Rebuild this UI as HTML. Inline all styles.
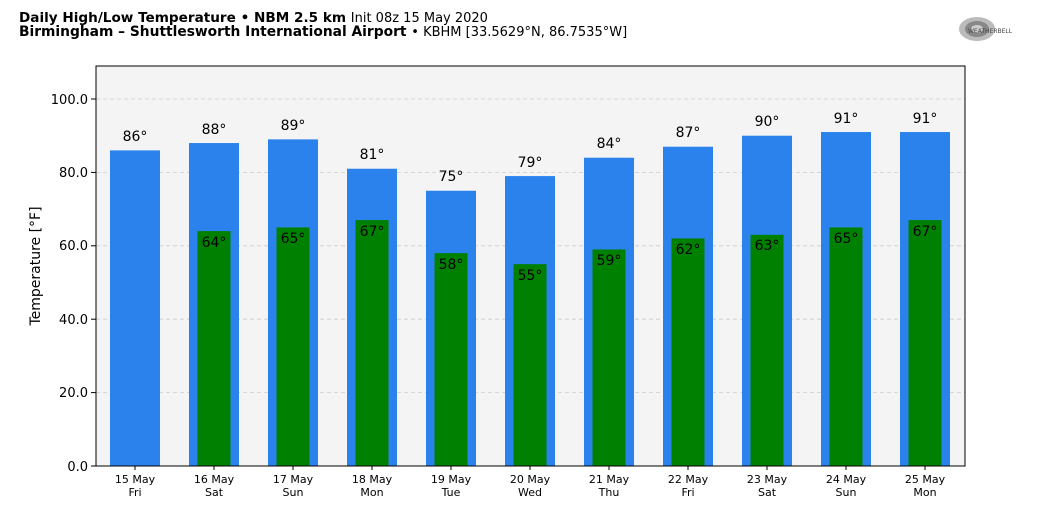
<!DOCTYPE html>
<html><head><meta charset="utf-8"><style>
body{margin:0;background:#fff;}
svg{display:block;font-family:"DejaVu Sans","Liberation Sans",sans-serif;}
</style></head><body>
<svg width="1040" height="516" viewBox="0 0 1040 516" xmlns="http://www.w3.org/2000/svg">
<rect width="1040" height="516" fill="#fff"/>
<text x="19" y="22" font-size="13.6" font-weight="bold" fill="#000">Daily High/Low Temperature • NBM 2.5 km <tspan font-weight="normal" font-size="13">Init 08z 15 May 2020</tspan></text>
<text x="19" y="36" font-size="13.8" font-weight="bold" fill="#000">Birmingham – Shuttlesworth International Airport <tspan font-weight="normal" font-size="13">• KBHM [33.5629°N, 86.7535°W]</tspan></text>
<g>
<ellipse cx="977" cy="29" rx="18" ry="12" fill="#bbb"/>
<ellipse cx="977" cy="29" rx="12" ry="8" fill="#888"/>
<ellipse cx="977" cy="29" rx="6" ry="4" fill="#ccc"/>
<text x="968" y="33" font-size="6" fill="#444">WEATHERBELL</text>
</g>
<rect x="96" y="66" width="869" height="400" fill="#f4f4f4"/>
<g stroke="#ccc" stroke-dasharray="4,3" stroke-width="0.8">
<line x1="96" x2="965" y1="99" y2="99"/>
<line x1="96" x2="965" y1="172.4" y2="172.4"/>
<line x1="96" x2="965" y1="245.8" y2="245.8"/>
<line x1="96" x2="965" y1="319.2" y2="319.2"/>
<line x1="96" x2="965" y1="392.6" y2="392.6"/>
</g>
<g fill="#2b82ed">
<rect x="110" y="150.38" width="50" height="315.62"/>
<rect x="189" y="143.04" width="50" height="322.96"/>
<rect x="268" y="139.37" width="50" height="326.63"/>
<rect x="347" y="168.73" width="50" height="297.27"/>
<rect x="426" y="190.75" width="50" height="275.25"/>
<rect x="505" y="176.07" width="50" height="289.93"/>
<rect x="584" y="157.72" width="50" height="308.28"/>
<rect x="663" y="146.71" width="50" height="319.29"/>
<rect x="742" y="135.7" width="50" height="330.3"/>
<rect x="821" y="132.03" width="50" height="333.97"/>
<rect x="900" y="132.03" width="50" height="333.97"/>
</g>
<g fill="#008000">
<rect x="197.5" y="231.12" width="33" height="234.88"/>
<rect x="276.5" y="227.45" width="33" height="238.55"/>
<rect x="355.5" y="220.11" width="33" height="245.89"/>
<rect x="434.5" y="253.14" width="33" height="212.86"/>
<rect x="513.5" y="264.15" width="33" height="201.85"/>
<rect x="592.5" y="249.47" width="33" height="216.53"/>
<rect x="671.5" y="238.46" width="33" height="227.54"/>
<rect x="750.5" y="234.79" width="33" height="231.21"/>
<rect x="829.5" y="227.45" width="33" height="238.55"/>
<rect x="908.5" y="220.11" width="33" height="245.89"/>
</g>
<g font-size="14" text-anchor="middle" fill="#000">
<text x="135" y="141">86°</text><text x="214" y="134">88°</text><text x="293" y="130">89°</text>
<text x="372" y="159">81°</text><text x="451" y="181">75°</text><text x="530" y="167">79°</text>
<text x="609" y="148">84°</text><text x="688" y="137">87°</text><text x="767" y="126">90°</text>
<text x="846" y="123">91°</text><text x="925" y="123">91°</text>
<text x="214" y="247">64°</text><text x="293" y="243">65°</text><text x="372" y="236">67°</text>
<text x="451" y="269">58°</text><text x="530" y="280">55°</text><text x="609" y="265">59°</text>
<text x="688" y="254">62°</text><text x="767" y="250">63°</text><text x="846" y="243">65°</text>
<text x="925" y="236">67°</text>
</g>
<rect x="96" y="66" width="869" height="400" fill="none" stroke="#000" stroke-width="1"/>
<g font-size="13" text-anchor="end" fill="#000">
<text x="88" y="104">100.0</text><text x="88" y="177">80.0</text><text x="88" y="250">60.0</text>
<text x="88" y="324">40.0</text><text x="88" y="397">20.0</text><text x="88" y="471">0.0</text>
</g>
<g stroke="#000"><line x1="91" x2="96" y1="99" y2="99"/><line x1="91" x2="96" y1="172.4" y2="172.4"/><line x1="91" x2="96" y1="245.8" y2="245.8"/><line x1="91" x2="96" y1="319.2" y2="319.2"/><line x1="91" x2="96" y1="392.6" y2="392.6"/><line x1="91" x2="96" y1="466" y2="466"/>
<line x1="135" x2="135" y1="466" y2="470"/><line x1="214" x2="214" y1="466" y2="470"/><line x1="293" x2="293" y1="466" y2="470"/><line x1="372" x2="372" y1="466" y2="470"/><line x1="451" x2="451" y1="466" y2="470"/><line x1="530" x2="530" y1="466" y2="470"/><line x1="609" x2="609" y1="466" y2="470"/><line x1="688" x2="688" y1="466" y2="470"/><line x1="767" x2="767" y1="466" y2="470"/><line x1="846" x2="846" y1="466" y2="470"/><line x1="925" x2="925" y1="466" y2="470"/>
</g>
<g font-size="11" text-anchor="middle" fill="#000">
<text x="135" y="483">15 May</text><text x="135" y="496">Fri</text>
<text x="214" y="483">16 May</text><text x="214" y="496">Sat</text>
<text x="293" y="483">17 May</text><text x="293" y="496">Sun</text>
<text x="372" y="483">18 May</text><text x="372" y="496">Mon</text>
<text x="451" y="483">19 May</text><text x="451" y="496">Tue</text>
<text x="530" y="483">20 May</text><text x="530" y="496">Wed</text>
<text x="609" y="483">21 May</text><text x="609" y="496">Thu</text>
<text x="688" y="483">22 May</text><text x="688" y="496">Fri</text>
<text x="767" y="483">23 May</text><text x="767" y="496">Sat</text>
<text x="846" y="483">24 May</text><text x="846" y="496">Sun</text>
<text x="925" y="483">25 May</text><text x="925" y="496">Mon</text>
</g>
<text transform="translate(40,266) rotate(-90)" font-size="14" text-anchor="middle">Temperature [°F]</text>
</svg>
</body></html>
